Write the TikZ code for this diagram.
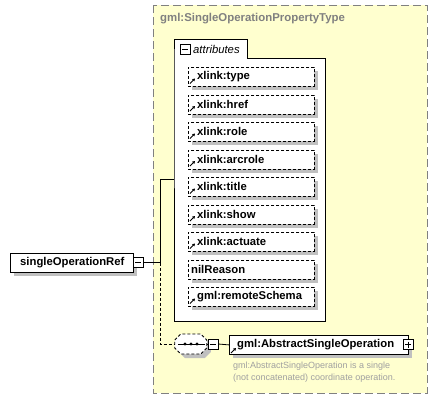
\documentclass[tikz,border=0pt]{standalone}
\usepackage{fontspec}
\setmainfont{Liberation Sans}
\usetikzlibrary{shadows,arrows.meta}
\definecolor{ybg}{HTML}{FFFFCF}
\definecolor{shd}{HTML}{C0C0C0}
\definecolor{tgray}{HTML}{808080}
\definecolor{dgray}{HTML}{A0A0A0}
\tikzset{
  shad/.style={general shadow={fill=shd, shadow xshift=4pt, shadow yshift=-4pt}},
  attrbox/.style={draw, dash pattern=on 3pt off 2pt, line width=0.8pt, fill=white, minimum width=126pt, minimum height=19pt, anchor=north west, inner sep=0pt, shad},
  elbox/.style={draw, line width=0.8pt, fill=white, minimum height=19pt, anchor=north west, inner sep=0pt, shad},
  lbl/.style={anchor=west, inner sep=0pt, font=\bfseries\fontsize{11.3}{13}\selectfont},
  sq/.style={draw, fill=white, line width=0.8pt, minimum size=10pt, inner sep=0pt},
  minus/.style={sq, path picture={\draw[line width=0.8pt] ([xshift=2pt]path picture bounding box.west) -- ([xshift=-2pt]path picture bounding box.east);}},
  plus/.style={sq, path picture={\draw[line width=0.8pt] ([xshift=2pt]path picture bounding box.west) -- ([xshift=-2pt]path picture bounding box.east) ([yshift=-2pt]path picture bounding box.north) -- ([yshift=2pt]path picture bounding box.south);}},
  conn/.style={line width=0.8pt},
  dconn/.style={line width=0.8pt, dash pattern=on 3pt off 2pt},
  icon/.style={line width=0.9pt, -{Triangle[length=2.6pt,width=3pt]}},
}
\newcommand{\xicon}[2]{\draw[icon] (#1,#2) -- ++(5,-5);}
\begin{document}
\begin{tikzpicture}[x=1pt,y=-1pt]
\useasboundingbox (0,0) rectangle (437,400);
% type box
\draw[fill=ybg, draw=tgray, line width=1pt, dash pattern=on 8pt off 4pt] (153,5) rectangle (427,393);
\node[anchor=west, inner sep=0pt, text=tgray, font=\bfseries\fontsize{11.4}{13}\selectfont] (title) at (160,19) {gml:SingleOperationPropertyType};
% attributes group
\draw[fill=white, line width=0.8pt] (174,58) -- (174,39) -- (247,39) -- (247,58) -- (325,58) -- (325,321) -- (174,321) -- cycle;
\node[minus] (attm) at (185,49) {};
\node[anchor=west, inner sep=0pt, font=\itshape\fontsize{11.3}{13}\selectfont] (attl) at (193,49) {attributes};
\coordinate (attrjoin) at (174,179);
% attributes
\foreach \i/\t/\ic in {0/xlink:type/1,1/xlink:href/1,2/xlink:role/1,3/xlink:arcrole/1,4/xlink:title/1,5/xlink:show/1,6/xlink:actuate/1,7/nilReason/0,8/gml:remoteSchema/1}{
  \pgfmathsetmacro{\ty}{67+27.5*\i}
  \node[attrbox] (a\i) at (188,\ty) {};
  \ifnum\ic=1
    \node[lbl] (l\i) at ([xshift=9pt]a\i.west) {\t};
    \xicon{190}{\ty+16.5}
  \else
    \node[lbl] (l\i) at ([xshift=3pt]a\i.west) {\t};
  \fi
}
% element
\node[elbox, minimum width=123pt] (ref) at (10,253) {};
\node[lbl] (refl) at ([xshift=10pt]ref.west) {singleOperationRef};
\node[minus] (refm) at (138,262.5) {};
\coordinate (junc) at (160,262.5);
\draw[conn] (refm.east) -- (junc) |- (attrjoin);
% sequence
\node[minimum width=32pt, minimum height=20pt, inner sep=0pt] (seq) at (191,344) {};
\path[fill=shd] ([shift={(4pt,-4pt)}]seq.west) ++(0,-4) -- ++(6,-6) -- ++(20,0) -- ++(6,6) -- ++(0,8) -- ++(-6,6) -- ++(-20,0) -- ++(-6,-6) -- cycle;
\draw[fill=white, dash pattern=on 3pt off 2pt, line width=0.8pt] (seq.west) ++(0,-4) -- ++(6,-6) -- ++(20,0) -- ++(6,6) -- ++(0,8) -- ++(-6,6) -- ++(-20,0) -- ++(-6,-6) -- cycle;
\draw[line width=0.8pt] (178,344) -- (205,344);
\foreach \dx in {185,191,197} \fill (\dx,344) circle (1.6pt);
\draw[dconn] (junc) |- (seq.west);
\node[minus] (seqm) at (213,344) {};
\draw[conn] (seq.east) -- (seqm.west);
\node[elbox, minimum width=179pt] (abs) at (229,335) {};
\node[lbl] (absl) at ([xshift=8pt]abs.west) {gml:AbstractSingleOperation};
\xicon{231}{353}
\node[plus] (absp) at (408,344.5) {};
\draw[conn] (seqm.east) -- (abs.west);
\node[anchor=north west, inner sep=0pt, align=left, text=dgray, font=\fontsize{9}{12}\selectfont] (desc) at (233,361.5) {gml:AbstractSingleOperation is a single\\(not concatenated) coordinate operation.};
\end{tikzpicture}
\end{document}
